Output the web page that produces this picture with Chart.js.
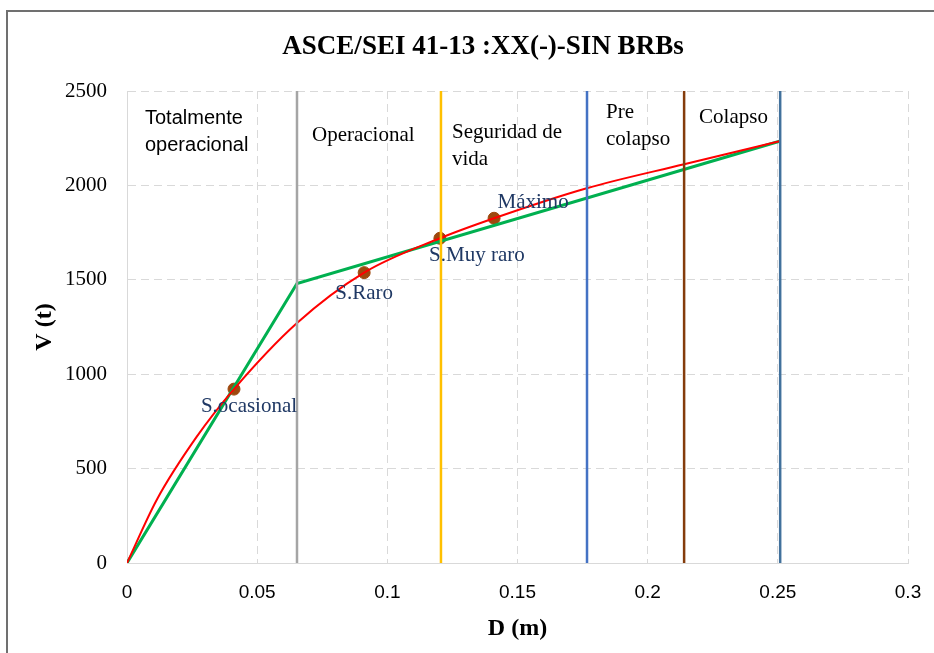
<!DOCTYPE html>
<html>
<head>
<meta charset="utf-8">
<script src="https://cdn.jsdelivr.net/npm/chart.js@4"></script>
<style>
  body { margin: 0; background: #fff; }
  #frame { position: absolute; left: 6px; top: 10px; width: 960px; height: 700px; border: 2px solid #707070; }
  #wrap { position: absolute; left: 0; top: 0; width: 934px; height: 653px; }
</style>
</head>
<body>
<div id="frame"></div>
<div id="wrap"><canvas id="curveChart" width="934" height="653"></canvas></div>
<script>
const chartTitle = 'ASCE/SEI 41-13 :XX(-)-SIN BRBs'

// bilinear idealisation (green)
const bilinearD = [0, 0.0653, 0.251]
const bilinearV = [0, 1480, 2235]

// capacity curve (red)
const curveD = [0, 0.0114, 0.0268, 0.0411, 0.0653, 0.0911, 0.1202, 0.141, 0.1766, 0.214, 0.251]
const curveV = [0, 334, 669, 921, 1271, 1538, 1720, 1826, 1985, 2112, 2235]

// performance points
const pointNames = ['S.ocasional', 'S.Raro', 'S.Muy raro', 'Máximo']
const pointD = [0.0411, 0.0911, 0.1202, 0.141]
const pointV = [921, 1538, 1720, 1826]

// zone limits (vertical lines)
const limitD = [0.0653, 0.1206, 0.1767, 0.214, 0.2509]
const limitColors = ['#a5a5a5', '#ffc000', '#4472c4', '#843c0c', '#41719c']

const zoneNames = [['Totalmente', 'operacional'], ['Operacional'], ['Seguridad de', 'vida'], ['Pre', 'colapso'], ['Colapso']]
const zoneStart = [0, 0.0653, 0.1206, 0.1767, 0.214]

const xTicks = [0, 0.05, 0.1, 0.15, 0.2, 0.25, 0.3]
const yTicks = [0, 500, 1000, 1500, 2000, 2500]

const toXY = (xs, ys) => xs.map((x, i) => ({ x: x, y: ys[i] }))

const datasets = []
limitD.forEach(function (d, i) {
    datasets.push({
        data: [{ x: d, y: 0 }, { x: d, y: 2500 }],
        showLine: true, borderColor: limitColors[i], borderWidth: 2.5,
        pointRadius: 0
    })
})
datasets.push({
    data: toXY(curveD, curveV), showLine: true, borderColor: '#ff0000', borderWidth: 2,
    cubicInterpolationMode: 'monotone', pointRadius: 0
})
datasets.push({
    data: toXY(bilinearD, bilinearV), showLine: true, borderColor: '#00b050', borderWidth: 3,
    pointRadius: 0
})
datasets.push({
    data: toXY(pointD, pointV), showLine: false, pointRadius: 6,
    pointBackgroundColor: '#9e480e', pointBorderColor: '#9e480e'
})

// label offsets in pixels from each point / zone
const pointLabelOffsets = [[15, 17], [0, 21], [37, 17], [39, -16]]
const zoneLabelPos = [[18, 118], [15, 135], [11, 132], [19, 112], [15, 117]]
const zoneFonts = ['20px "Liberation Sans"', '21px "Liberation Serif"', '21px "Liberation Serif"', '21px "Liberation Serif"', '21px "Liberation Serif"']

const labelPlugin = {
    id: 'labels',
    afterDraw(chart) {
        const ctx = chart.ctx
        const xs = chart.scales.x, ys = chart.scales.y
        ctx.save()
        ctx.textBaseline = 'middle'
        ctx.fillStyle = '#000'
        // title (Excel centres it slightly right of the canvas middle)
        ctx.textAlign = 'center'
        ctx.font = 'bold 27px "Liberation Serif"'
        ctx.fillText(chartTitle, chart.width / 2 + 16, 47)

        zoneNames.forEach(function (lines, i) {
            ctx.font = zoneFonts[i]
            ctx.textAlign = 'left'
            const x0 = xs.getPixelForValue(zoneStart[i]) + zoneLabelPos[i][0]
            lines.forEach(function (t, j) {
                ctx.fillText(t, x0, zoneLabelPos[i][1] + j * 27)
            })
        })
        ctx.fillStyle = '#1f3864'
        ctx.font = '21px "Liberation Serif"'
        ctx.textAlign = 'center'
        pointNames.forEach(function (name, i) {
            const px = xs.getPixelForValue(pointD[i]) + pointLabelOffsets[i][0]
            const py = ys.getPixelForValue(pointV[i]) + pointLabelOffsets[i][1]
            ctx.fillText(name, px, py)
        })
        ctx.restore()
    }
}

new Chart(document.getElementById('curveChart'), {
    type: 'scatter',
    data: { datasets: datasets },
    plugins: [labelPlugin],
    options: {
        responsive: false,
        animation: false,
        events: [],
        layout: { padding: { left: 0, right: 26, top: 91, bottom: 0 } },
        plugins: {
            legend: { display: false },
            tooltip: { enabled: false },
            title: { display: false }
        },
        scales: {
            x: {
                type: 'linear', min: 0, max: 0.3,
                afterBuildTicks: function (scale) { scale.ticks = xTicks.map(v => ({ value: v })) },
                afterFit: function (scale) {
                    scale.height = 90
                    scale.paddingLeft = 0
                    scale.paddingRight = 0
                },
                ticks: {
                    color: '#000', padding: 18,
                    font: { family: '"Liberation Sans"', size: 19 },
                    callback: v => String(v)
                },
                grid: { color: '#d9d9d9', drawTicks: false },
                border: { color: '#d9d9d9', dash: [8, 5] },
                title: {
                    display: true, text: 'D (m)', color: '#000',
                    font: { family: '"Liberation Serif"', size: 24, weight: 'bold' },
                    padding: { top: 0, bottom: 10 }
                }
            },
            y: {
                type: 'linear', min: 0, max: 2500,
                afterBuildTicks: function (scale) { scale.ticks = yTicks.map(v => ({ value: v })) },
                afterFit: function (scale) {
                    scale.width = 127
                    scale.paddingTop = 0
                    scale.paddingBottom = 0
                },
                ticks: {
                    color: '#000', padding: 20,
                    font: { family: '"Liberation Serif"', size: 21 },
                    callback: v => String(v)
                },
                grid: { color: '#d9d9d9', drawTicks: false },
                border: { color: '#d9d9d9', dash: [8, 5] },
                title: {
                    display: true, text: 'V (t)', color: '#000',
                    font: { family: '"Liberation Serif"', size: 24, weight: 'bold' },
                    padding: { top: 30, bottom: 0 }
                }
            }
        }
    }
})
</script>
</body>
</html>
